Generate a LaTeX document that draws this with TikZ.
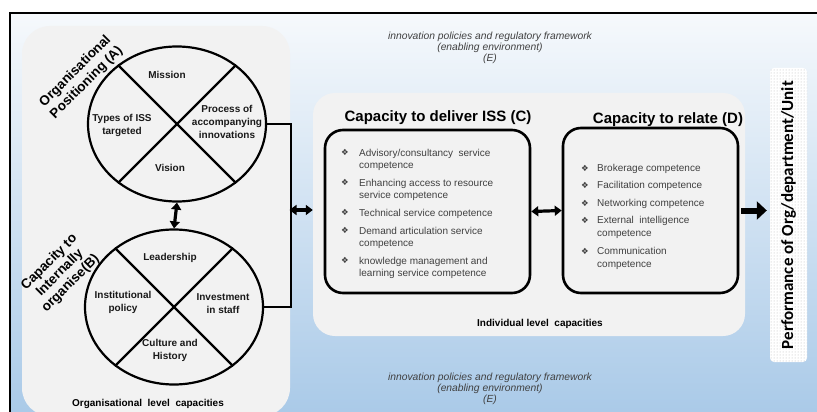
\documentclass[tikz,border=0pt]{standalone}
\usepackage{fontspec}
\setmainfont{Liberation Sans}
\newfontfamily\dv{DejaVu Sans}
\newfontfamily\calib{Carlito}
\usetikzlibrary{shapes.geometric,arrows.meta,patterns}
\definecolor{bgtop}{HTML}{F6F9FC}
\definecolor{bgbot}{HTML}{AACAE8}
\definecolor{panel}{HTML}{F2F2F2}
\definecolor{itemgray}{HTML}{404040}
\newcommand\bul[1]{\makebox[#1][l]{\raisebox{0.2pt}{\dv\fontsize{8.5}{8.5}\selectfont\color{itemgray}❖}}}
\begin{document}
\begin{tikzpicture}[x=1pt,y=-1pt,
  wheel/.style={ellipse, draw, line width=2.2pt, minimum width=178pt, minimum height=155pt, inner sep=0pt},
  spoke/.style={line width=2.2pt},
  seg/.style={font=\bfseries\fontsize{10}{13}\selectfont, align=center, text=black!90},
  panelbox/.style={rectangle, fill=panel, draw=none, inner sep=0pt},
  capbox/.style={rectangle, draw, line width=2.6pt, rounded corners=18pt, inner sep=0pt},
  title/.style={font=\bfseries\fontsize{15}{18}\selectfont},
  items/.style={text=itemgray, inner sep=0pt},
  envtext/.style={font=\itshape\fontsize{10.3}{11}\selectfont, text=black!75, align=center},
  rotlabel/.style={font=\bfseries\fontsize{13.5}{16}\selectfont, align=center, rotate=45},
  dblarrow/.style={line width=3.2pt, {Triangle[length=7pt,width=10pt]}-{Triangle[length=7pt,width=10pt]}},
  conn/.style={line width=2.2pt},
  bigarrow/.style={line width=6pt, -{Triangle[length=10pt,width=18pt]}},
  levellabel/.style={font=\bfseries\fontsize{10}{12}\selectfont}
]
\useasboundingbox (0,0) rectangle (817,412);
% background frame
\shade[top color=bgtop, bottom color=bgbot] (10,13) rectangle (817,412);
\draw[line width=1.6pt] (10,412) -- (10,13) -- (817,13);

% panels
\node[panelbox, rounded corners=28pt, minimum width=268pt, minimum height=390pt] (org) at (156,221) {};
\node[panelbox, rounded corners=22pt, minimum width=432pt, minimum height=243pt] (ind) at (529,214.5) {};

% environment texts
\node[envtext] (envtop) at (490,48) {innovation policies and regulatory framework\\(enabling environment)\\(E)};
\node[envtext] (envbot) at (490,389) {innovation policies and regulatory framework\\(enabling environment)\\(E)};

% wheel A
\node[wheel] (cA) at (177,124) {};
\draw[spoke] (cA.135) -- (cA.-45);
\draw[spoke] (cA.45) -- (cA.-135);
\node[seg] (mission) at (167,75) {Mission};
\node[seg] (types) at (122,125) {Types of ISS\\targeted};
\node[seg] (process) at (227,122) {Process of\\accompanying\\innovations};
\node[seg] (vision) at (170,168) {Vision};

% wheel B
\node[wheel] (cB) at (174,307) {};
\draw[spoke] (cB.135) -- (cB.-45);
\draw[spoke] (cB.45) -- (cB.-135);
\node[seg] (leader) at (170,258) {Leadership};
\node[seg] (inst) at (123,302) {Institutional\\policy};
\node[seg] (invest) at (223,304) {Investment\\in staff};
\node[seg] (culture) at (170,350) {Culture and\\History};

% rotated labels
\node[rotlabel] (labA) at (81,77) {Organisational\\Positioning (A)};
\node[rotlabel, font=\bfseries\fontsize{13.5}{15}\selectfont] (labB) at (60,273) {Capacity to\\Internally\\organise(B)};

% connectors on left
\draw[dblarrow] (cA.south) -- (cB.north);
\draw[conn] (cA.east) -- ++(24,0) coordinate (jtop) |- (cB.east);
\coordinate (jmid) at (289.5,210);
\draw[dblarrow] (jmid) -- (jmid -| ind.west);

% capacity C
\node[title] (titC) at (438,118) {Capacity to deliver ISS (C)};
\node[capbox, minimum width=205pt, minimum height=163pt] (boxC) at (427.5,211.5) {};
\node[items, anchor=north west] (listC) at (341,147.5) {\fontsize{10}{12}\selectfont
\begin{tabular}{@{}l@{}l@{}}
\bul{18pt} & Advisory/consultancy\ \ service\\
           & competence\\[6pt]
\bul{18pt} & Enhancing access to resource\\
           & service competence\\[6pt]
\bul{18pt} & Technical service competence\\[6pt]
\bul{18pt} & Demand articulation service\\
           & competence\\[6pt]
\bul{18pt} & knowledge management and\\
           & learning service competence
\end{tabular}};

% capacity D
\node[title] (titD) at (668,120) {Capacity to relate (D)};
\node[capbox, minimum width=175pt, minimum height=165pt] (boxD) at (650.5,210.5) {};
\node[items, anchor=north west] (listD) at (581,162.5) {\fontsize{10}{12.5}\selectfont
\begin{tabular}{@{}l@{}l@{}}
\bul{16pt} & Brokerage competence\\[5pt]
\bul{16pt} & Facilitation competence\\[5pt]
\bul{16pt} & Networking competence\\[5pt]
\bul{16pt} & External\ \ intelligence\\
           & competence\\[6pt]
\bul{16pt} & Communication\\
           & competence
\end{tabular}};

\draw[dblarrow] (boxC.east) -- (boxD.west);

% level labels
\node[levellabel] (indlab) at (540,324) {Individual level\ \ capacities};
\node[levellabel] (orglab) at (148,404) {Organisational\ \ level\ \ capacities};

% performance
\node[rectangle, rounded corners=4pt, rotate=90, minimum width=294pt, minimum height=37pt,
      preaction={fill=white}, pattern=dots, pattern color=gray!55,
      font=\calib\bfseries\fontsize{17}{20}\selectfont] (perf) at (788.5,215) {Performance of Org/department/Unit};
\draw[bigarrow, shorten <=2pt, shorten >=3pt] (boxD.east) -- (boxD.east -| perf.north);
\end{tikzpicture}
\end{document}
